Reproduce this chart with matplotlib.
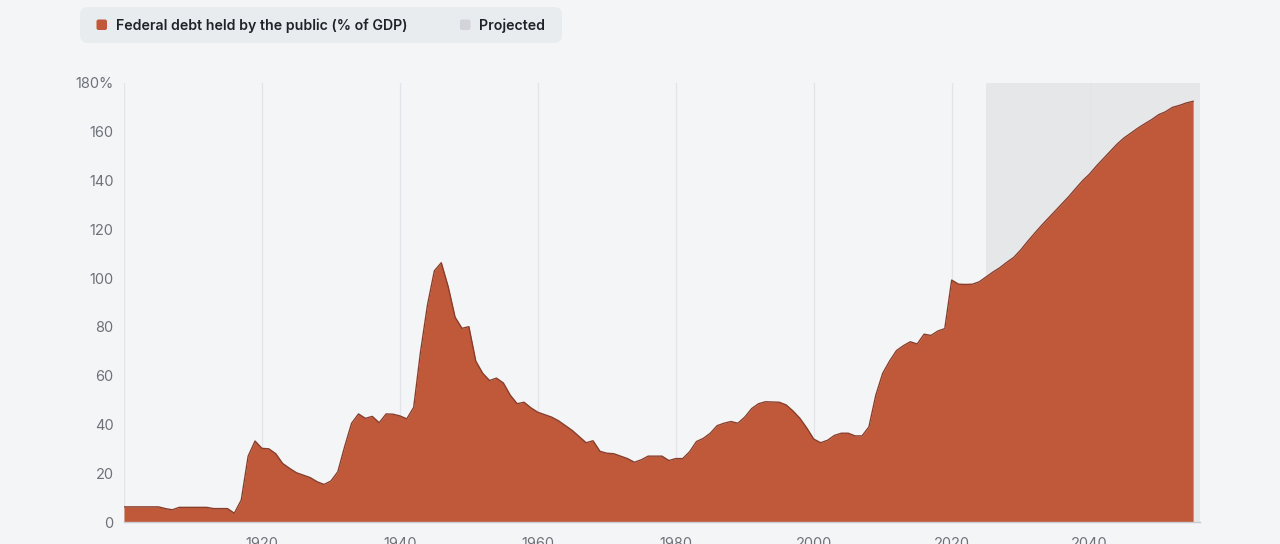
import matplotlib
matplotlib.use("Agg")
import matplotlib.pyplot as plt
from matplotlib.patches import FancyBboxPatch
import numpy as np

plt.rcParams['font.family'] = ['Inter', 'DejaVu Sans']

# ---- data ----
years = list(range(1900, 2056))
debt = [
    # 1900-1909
    6.2, 6.2, 6.2, 6.2, 6.2, 6.2, 5.5, 5.0, 6.0, 6.0,
    # 1910-1919
    6.0, 6.0, 6.0, 5.5, 5.5, 5.5, 3.6, 9.0, 27.0, 33.2,
    # 1920-1929
    30.2, 30.0, 28.0, 24.0, 22.0, 20.2, 19.2, 18.2, 16.5, 15.4,
    # 1930-1939
    16.8, 20.6, 31.0, 40.5, 44.3, 42.5, 43.3, 40.7, 44.3, 44.2,
    # 1940-1949
    43.5, 42.3, 47.0, 70.0, 89.0, 103.0, 106.3, 96.5, 84.0, 79.4,
    # 1950-1959
    80.1, 66.0, 61.0, 58.0, 59.0, 57.0, 52.0, 48.5, 49.1, 46.8,
    # 1960-1969
    45.0, 44.0, 43.0, 41.5, 39.5, 37.5, 35.0, 32.5, 33.3, 29.0,
    # 1970-1979
    28.2, 28.0, 27.0, 26.0, 24.5, 25.5, 27.0, 27.0, 27.0, 25.2,
    # 1980-1989
    26.0, 26.0, 28.8, 33.0, 34.3, 36.4, 39.5, 40.5, 41.2, 40.5,
    # 1990-1999
    43.0, 46.5, 48.5, 49.3, 49.2, 49.1, 48.0, 45.5, 42.5, 38.5,
    # 2000-2009
    34.0, 32.5, 33.5, 35.5, 36.4, 36.4, 35.3, 35.3, 39.0, 52.0,
    # 2010-2019
    61.0, 66.0, 70.3, 72.3, 73.9, 73.0, 77.0, 76.5, 78.3, 79.3,
    # 2020-2029
    99.2, 97.5, 97.4, 97.5, 98.5, 100.5, 102.5, 104.3, 106.5, 108.5,
    # 2030-2039
    111.5, 115.0, 118.3, 121.5, 124.5, 127.5, 130.5, 133.5, 136.8, 140.0,
    # 2040-2049
    142.7, 146.0, 149.0, 152.0, 155.0, 157.5, 159.5, 161.5, 163.3, 165.0,
    # 2050-2055
    167.0, 168.2, 170.0, 170.8, 171.8, 172.5,
]
projection_start = 2025
projection_end = 2056
x_ticks = [1920, 1940, 1960, 1980, 2000, 2020, 2040]
y_ticks = [0, 20, 40, 60, 80, 100, 120, 140, 160, 180]
y_labels = ["0", "20", "40", "60", "80", "100", "120", "140", "160", "180%"]
series_label = "Federal debt held by the public (% of GDP)"
proj_label = "Projected"

# ---- style ----
BG = "#f3f5f7"
FILL = "#c0593a"
EDGE = "#8a3d2a"
SHADE = "#e6e7e9"
GRID = "#e1e4e8"
TICK = "#6e7278"

W, H = 1280, 544
fig = plt.figure(figsize=(W / 100, H / 100), dpi=100, facecolor=BG)

ax = fig.add_axes([124 / W, (H - 522) / H, 1076 / W, 439 / H])
ax.set_facecolor(BG)
ax.set_xlim(1900, 2056)
ax.set_ylim(0, 180)

ax.axvspan(projection_start, projection_end, color=SHADE, zorder=0, lw=0)
for xt in [1900] + x_ticks:
    ax.axvline(xt, color=GRID, lw=0.9, zorder=1)

ax.fill_between(years, debt, 0, color=FILL, lw=0, zorder=2)
ax.plot(years, debt, color=EDGE, lw=1.0, zorder=3)

for s in ["top", "right", "left"]:
    ax.spines[s].set_visible(False)
ax.spines["bottom"].set_color("#c9ccd1")
ax.spines["bottom"].set_linewidth(1.0)
ax.spines["bottom"].set_zorder(4)

ax.set_xticks(x_ticks)
ax.set_xticklabels([str(t) for t in x_ticks])
ax.set_yticks(y_ticks)
ax.set_yticklabels(y_labels)
ax.tick_params(axis="both", length=0, colors=TICK, labelsize=10.5)
ax.tick_params(axis="y", pad=7.5)
ax.tick_params(axis="x", pad=11)

# ---- legend (pixel-space overlay) ----
lg = fig.add_axes([0, 0, 1, 1], facecolor="none")
lg.set_xlim(0, W)
lg.set_ylim(H, 0)
lg.axis("off")
lg.add_patch(FancyBboxPatch((80, 7), 482, 36,
                            boxstyle="round,pad=0,rounding_size=8",
                            fc="#e9ecef", ec="none"))
lg.add_patch(FancyBboxPatch((96.5, 19.5), 10.5, 10.5,
                            boxstyle="round,pad=0,rounding_size=2",
                            fc=FILL, ec="none"))
lg.add_patch(FancyBboxPatch((460, 19.5), 10.5, 10.5,
                            boxstyle="round,pad=0,rounding_size=2",
                            fc="#d2d4d9", ec="none"))
lg.text(115.5, 25.5, series_label, fontsize=10.2, fontweight="semibold",
        color="#1f2226", va="center", ha="left")
lg.text(479, 25.5, proj_label, fontsize=10.2, fontweight="semibold",
        color="#1f2226", va="center", ha="left")

fig.savefig("out.png", dpi=100, facecolor=BG)
